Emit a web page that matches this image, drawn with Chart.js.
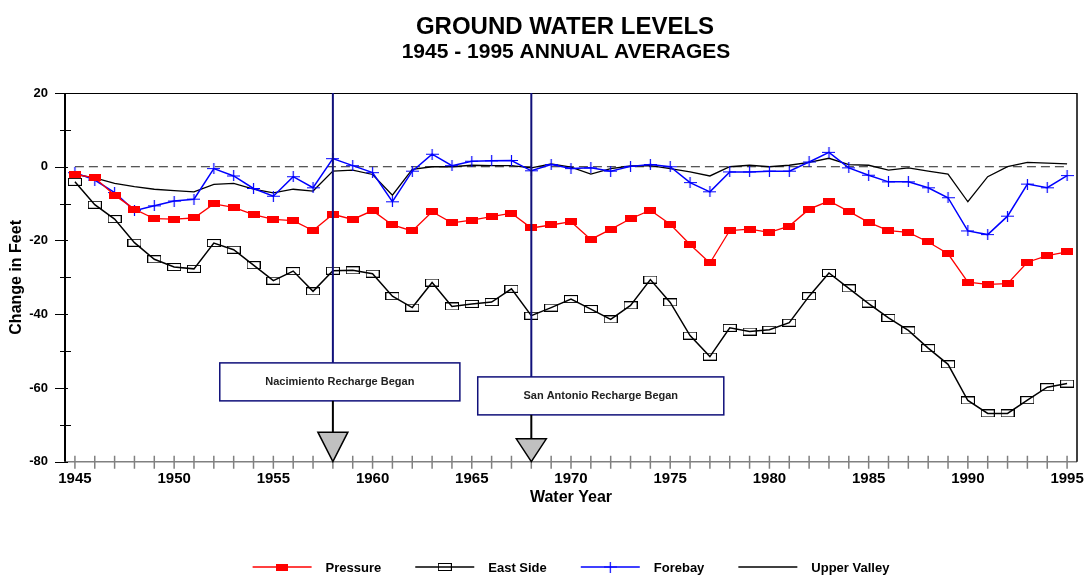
<!DOCTYPE html>
<html>
<head>
<meta charset="utf-8">
<title>Ground Water Levels</title>
<script src="https://cdn.jsdelivr.net/npm/chart.js@4.4.1/dist/chart.umd.min.js"></script>
<style>
  html, body { margin: 0; padding: 0; background: #fff; }
  #wrap { width: 1085px; height: 576px; }
</style>
</head>
<body>
<div id="wrap"><canvas id="chart" width="1085" height="576"></canvas></div>
<script>
// Water years on the x axis
const years = [1945, 1946, 1947, 1948, 1949, 1950, 1951, 1952, 1953, 1954,
  1955, 1956, 1957, 1958, 1959, 1960, 1961, 1962, 1963, 1964,
  1965, 1966, 1967, 1968, 1969, 1970, 1971, 1972, 1973, 1974,
  1975, 1976, 1977, 1978, 1979, 1980, 1981, 1982, 1983, 1984,
  1985, 1986, 1987, 1988, 1989, 1990, 1991, 1992, 1993, 1994, 1995];

// Change in feet
const pressure = [-2.1, -3.0, -7.7, -11.5, -14.1, -14.2, -13.9, -10.1, -11.0, -13.0,
  -14.3, -14.6, -17.3, -12.9, -14.3, -11.9, -15.8, -17.4, -12.2, -15.2,
  -14.5, -13.5, -12.6, -16.6, -15.8, -14.9, -19.7, -17.0, -14.1, -11.8,
  -15.6, -21.1, -26.1, -17.3, -16.9, -17.8, -16.1, -11.5, -9.3, -12.1,
  -15.1, -17.3, -17.8, -20.4, -23.6, -31.3, -31.9, -31.7, -25.9, -24.1, -23.1];

const eastSide = [-4.1, -10.3, -14.2, -20.6, -25.1, -27.2, -27.7, -20.7, -22.5, -26.7,
  -30.9, -28.3, -33.8, -28.2, -28.1, -29.0, -35.1, -38.2, -31.4, -37.9,
  -37.2, -36.7, -33.1, -40.4, -38.2, -35.9, -38.6, -41.4, -37.6, -30.6,
  -36.8, -45.8, -51.5, -43.7, -44.7, -44.2, -42.3, -35.1, -28.8, -33.0,
  -37.1, -41.0, -44.4, -49.2, -53.6, -63.4, -66.9, -66.9, -63.3, -59.8, -58.8];

const forebay = [-1.6, -3.6, -7.0, -11.9, -10.6, -9.3, -8.8, -0.5, -2.5, -5.9,
  -8.0, -2.7, -5.7, 2.2, 0.3, -1.6, -9.5, -1.2, 3.4, 0.3,
  1.5, 1.6, 1.7, -1.1, 0.6, -0.5, -0.3, -1.2, 0.1, 0.6,
  0.0, -4.3, -6.8, -1.4, -1.4, -1.2, -1.2, 1.3, 3.9, -0.3,
  -2.3, -4.1, -4.1, -5.7, -8.4, -17.4, -18.4, -13.4, -4.7, -5.7, -2.4];

const upperValley = [-2.1, -3.0, -4.5, -5.4, -6.1, -6.5, -6.8, -4.8, -4.5, -6.1,
  -7.1, -6.1, -6.6, -1.2, -0.9, -2.1, -7.7, -0.7, 0.0, 0.0,
  0.4, 0.3, 0.3, -0.3, 0.8, -0.1, -2.0, -0.5, 0.2, 0.3,
  -0.5, -1.4, -2.5, 0.0, 0.4, 0.0, 0.4, 1.2, 2.3, 0.6,
  0.4, -0.9, -0.3, -1.2, -2.0, -9.5, -2.7, 0.0, 1.2, 1.0, 0.8];

const seriesNames = ["Pressure", "East Side", "Forebay", "Upper Valley"];
const rechargeYears = [1958, 1968];
const rechargeLabels = ["Nacimiento Recharge Began", "San Antonio Recharge Began"];

const FONT = '"Liberation Sans", Arial, Helvetica, sans-serif';

function toPoints(values) {
  return years.map((yr, i) => ({ x: yr, y: values[i] }));
}

// small canvases used as point markers
function makeMarker(w, h, draw) {
  const c = document.createElement("canvas");
  c.width = w;
  c.height = h;
  draw(c.getContext("2d"), w, h);
  return c;
}
const redBox = makeMarker(12, 7, (g, w, h) => {
  g.fillStyle = "#ff0000";
  g.fillRect(0, 0, w, h);
});
const openBox = makeMarker(14, 8, (g, w, h) => {
  g.strokeStyle = "#000";
  g.lineWidth = 1;
  g.strokeRect(0.5, 0.5, w - 1, h - 1);
});
const plusMark = makeMarker(13, 11, (g, w, h) => {
  g.strokeStyle = "#0000ff";
  g.lineWidth = 1.2;
  g.beginPath();
  g.moveTo(0, 5.5); g.lineTo(w, 5.5);
  g.moveTo(6.5, 0); g.lineTo(6.5, h);
  g.stroke();
});

// axes, tick marks and the frame round the plot
const framePlugin = {
  id: "frame",
  beforeDatasetsDraw(chart) {
    const { ctx, chartArea: a, scales: { x, y } } = chart;
    ctx.save();
    // year ticks crossing the bottom axis
    ctx.strokeStyle = "#808080";
    ctx.lineWidth = 1.5;
    ctx.beginPath();
    x.ticks.forEach(t => {
      const px = x.getPixelForValue(t.value);
      ctx.moveTo(px, a.bottom - 6);
      ctx.lineTo(px, a.bottom + 7);
    });
    ctx.moveTo(a.left, a.bottom);
    ctx.lineTo(a.right, a.bottom);
    ctx.stroke();

    // y ticks
    ctx.strokeStyle = "#000";
    ctx.lineWidth = 1;
    ctx.beginPath();
    y.ticks.forEach(t => {
      const py = Math.round(y.getPixelForValue(t.value)) + 0.5;
      if (t.value % 20 === 0) {
        ctx.moveTo(a.left - 10, py);
        ctx.lineTo(a.left + 3, py);
      } else {
        ctx.moveTo(a.left - 5, py);
        ctx.lineTo(a.left + 6, py);
      }
    });
    // top and right frame
    ctx.moveTo(a.left, a.top + 0.5);
    ctx.lineTo(a.right, a.top + 0.5);
    ctx.stroke();
    ctx.lineWidth = 1.5;
    ctx.beginPath();
    ctx.moveTo(a.right, a.top);
    ctx.lineTo(a.right, a.bottom);
    ctx.stroke();
    // left axis
    ctx.lineWidth = 2;
    ctx.beginPath();
    ctx.moveTo(a.left, a.top);
    ctx.lineTo(a.left, a.bottom);
    ctx.stroke();
    ctx.restore();
  }
};

// recharge markers: vertical line, label box and arrow head on the axis
const boxes = [
  { x0: 1952.3, x1: 1964.4, yTop: -53.2, yBot: -63.5, triTop: -72.0 },
  { x0: 1965.3, x1: 1977.7, yTop: -57.0, yBot: -67.3, triTop: -73.8 }
];
const rechargePlugin = {
  id: "recharge",
  afterDatasetsDraw(chart) {
    const { ctx, chartArea: a, scales: { x, y } } = chart;
    ctx.save();
    rechargeYears.forEach((yr, i) => {
      const b = boxes[i];
      const px = x.getPixelForValue(yr);
      const bl = x.getPixelForValue(b.x0), br = x.getPixelForValue(b.x1);
      const bt = y.getPixelForValue(b.yTop), bb = y.getPixelForValue(b.yBot);
      const tt = y.getPixelForValue(b.triTop);

      ctx.strokeStyle = "#10107a";
      ctx.lineWidth = 2;
      ctx.beginPath();
      ctx.moveTo(px, a.top);
      ctx.lineTo(px, bt);
      ctx.stroke();

      ctx.fillStyle = "#fff";
      ctx.fillRect(bl, bt, br - bl, bb - bt);
      ctx.lineWidth = 1.5;
      ctx.strokeRect(bl, bt, br - bl, bb - bt);

      ctx.fillStyle = "#222";
      ctx.font = "bold 11px " + FONT;
      ctx.textAlign = "center";
      ctx.textBaseline = "middle";
      ctx.fillText(rechargeLabels[i], (bl + br) / 2, (bt + bb) / 2);

      ctx.strokeStyle = "#000";
      ctx.lineWidth = 2;
      ctx.beginPath();
      ctx.moveTo(px, bb);
      ctx.lineTo(px, tt);
      ctx.stroke();

      ctx.beginPath();
      ctx.moveTo(px - 15, tt);
      ctx.lineTo(px + 15, tt);
      ctx.lineTo(px, a.bottom);
      ctx.closePath();
      ctx.fillStyle = "#c0c0c0";
      ctx.fill();
      ctx.lineWidth = 1.5;
      ctx.stroke();
    });
    ctx.restore();
  }
};

// titles and the legend row at the bottom
const textPlugin = {
  id: "texts",
  afterDraw(chart) {
    const { ctx } = chart;
    ctx.save();
    ctx.fillStyle = "#000";
    ctx.textAlign = "center";
    ctx.textBaseline = "alphabetic";
    ctx.font = "bold 24px " + FONT;
    ctx.fillText("GROUND WATER LEVELS", 565, 34);
    ctx.font = "bold 21px " + FONT;
    ctx.fillText("1945 - 1995 ANNUAL AVERAGES", 566, 58);

    // legend
    const lineLen = 59, textGap = 14, itemGap = 34, ly = 567;
    ctx.font = "bold 13px " + FONT;
    const items = chart.data.datasets.filter(d => seriesNames.includes(d.label));
    const widths = items.map(d => lineLen + textGap + ctx.measureText(d.label).width);
    const total = widths.reduce((s, w) => s + w, 0) + itemGap * (items.length - 1);
    let lx = 571 - total / 2;
    items.forEach((d, i) => {
      ctx.strokeStyle = d.borderColor;
      ctx.lineWidth = d.borderWidth;
      ctx.beginPath();
      ctx.moveTo(lx, ly);
      ctx.lineTo(lx + lineLen, ly);
      ctx.stroke();
      if (d.pointStyle instanceof HTMLCanvasElement) {
        const m = d.pointStyle;
        ctx.drawImage(m, lx + lineLen / 2 - m.width / 2, ly - m.height / 2);
      }
      ctx.fillStyle = "#000";
      ctx.textAlign = "left";
      ctx.textBaseline = "middle";
      ctx.fillText(d.label, lx + lineLen + textGap, ly + 1);
      lx += widths[i] + itemGap;
    });
    ctx.restore();
  }
};

new Chart(document.getElementById("chart"), {
  type: "line",
  data: {
    datasets: [
      {
        label: seriesNames[0],
        data: toPoints(pressure),
        borderColor: "#ff0000",
        borderWidth: 1.3,
        pointStyle: redBox,
        pointRadius: 6
      },
      {
        label: seriesNames[1],
        data: toPoints(eastSide),
        borderColor: "#000000",
        borderWidth: 1.5,
        pointStyle: openBox,
        pointRadius: 6
      },
      {
        label: seriesNames[2],
        data: toPoints(forebay),
        borderColor: "#0000ff",
        borderWidth: 1.5,
        pointStyle: plusMark,
        pointRadius: 6
      },
      {
        label: seriesNames[3],
        data: toPoints(upperValley),
        borderColor: "#000000",
        borderWidth: 1.3,
        pointRadius: 0
      },
      {
        label: "zero",
        data: [{ x: years[0], y: 0 }, { x: years[years.length - 1], y: 0 }],
        borderColor: "#222222",
        borderWidth: 1,
        borderDash: [9, 5],
        pointRadius: 0
      }
    ]
  },
  options: {
    responsive: false,
    animation: false,
    layout: { padding: { top: 93, right: 8, bottom: 0, left: 0 } },
    plugins: {
      legend: { display: false },
      title: { display: false },
      tooltip: { enabled: false }
    },
    scales: {
      x: {
        type: "linear",
        min: 1944.5,
        max: 1995.5,
        grid: { display: false, drawTicks: false },
        border: { display: false },
        afterBuildTicks: s => { s.ticks = years.map(v => ({ value: v })); },
        afterFit: s => { s.height = 114.3; s.paddingLeft = 0; s.paddingRight = 0; },
        ticks: {
          autoSkip: false,
          maxRotation: 0,
          padding: 8,
          color: "#000",
          font: { family: FONT, size: 15, weight: "bold" },
          callback: v => (v % 5 === 0 ? String(v) : "")
        },
        title: {
          display: true,
          text: "Water Year",
          color: "#000",
          font: { family: FONT, size: 16, weight: "bold" },
          padding: { top: 0, bottom: 69 }
        }
      },
      y: {
        min: -80,
        max: 20,
        grid: { display: false, drawTicks: false },
        border: { display: false },
        afterFit: s => { s.width = 65; s.paddingTop = 0; s.paddingBottom = 0; },
        ticks: {
          stepSize: 10,
          padding: 17,
          color: "#000",
          font: { family: FONT, size: 13, weight: "bold" },
          callback: v => (v % 20 === 0 ? String(v) : "")
        },
        title: {
          display: true,
          text: "Change in Feet",
          color: "#000",
          font: { family: FONT, size: 16, weight: "bold" },
          padding: { top: 7, bottom: 0 }
        }
      }
    }
  },
  plugins: [framePlugin, rechargePlugin, textPlugin]
});
</script>
</body>
</html>
